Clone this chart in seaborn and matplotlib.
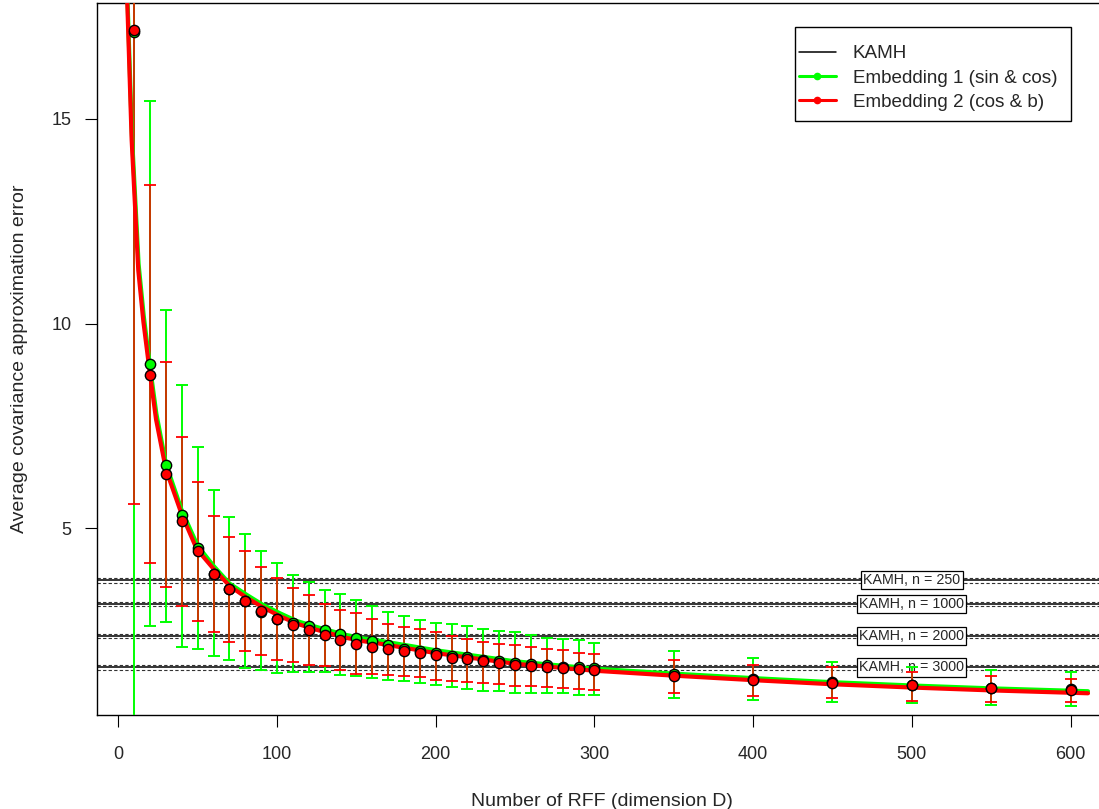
import numpy as np
import matplotlib
matplotlib.use("Agg")
import matplotlib.pyplot as plt
from matplotlib.lines import Line2D
from matplotlib.patches import Rectangle
import seaborn as sns

sns.set_style("white")
plt.rcParams['font.family'] = ['Liberation Sans', 'DejaVu Sans']

# Number of random Fourier features
D = [10, 20, 30, 40, 50, 60, 70, 80, 90, 100, 110, 120, 130, 140, 150,
     160, 170, 180, 190, 200, 210, 220, 230, 240, 250, 260, 270, 280, 290, 300,
     350, 400, 450, 500, 550, 600]

# Embedding 1 (sin & cos): mean and error bar ends
emb1_mean = [17.12, 9.02, 6.54, 5.32, 4.52, 3.89, 3.52, 3.22, 2.97, 2.79, 2.69, 2.61, 2.52, 2.42, 2.33,
             2.25, 2.15, 2.07, 2.02, 1.97, 1.89, 1.87, 1.80, 1.77, 1.71, 1.69, 1.67, 1.63, 1.62, 1.59,
             1.44, 1.34, 1.26, 1.19, 1.12, 1.08]
emb1_hi = [34.1, 15.42, 10.32, 8.51, 6.98, 5.95, 5.28, 4.87, 4.44, 4.15, 3.86, 3.70, 3.51, 3.40, 3.26,
           3.11, 2.97, 2.86, 2.76, 2.70, 2.66, 2.63, 2.56, 2.49, 2.47, 2.41, 2.33, 2.31, 2.27, 2.21,
           2.02, 1.84, 1.74, 1.62, 1.56, 1.50]
emb1_lo = [0.2, 2.63, 2.73, 2.11, 2.05, 1.89, 1.80, 1.59, 1.55, 1.47, 1.51, 1.51, 1.50, 1.42, 1.39,
           1.35, 1.30, 1.28, 1.23, 1.18, 1.14, 1.08, 1.03, 1.03, 0.98, 0.98, 0.99, 0.98, 0.93, 0.93,
           0.86, 0.82, 0.76, 0.75, 0.69, 0.68]

# Embedding 2 (cos & b)
emb2_mean = [17.17, 8.74, 6.32, 5.18, 4.45, 3.90, 3.53, 3.23, 2.98, 2.80, 2.65, 2.52, 2.41, 2.29, 2.19,
             2.11, 2.07, 2.02, 1.97, 1.91, 1.85, 1.81, 1.76, 1.72, 1.68, 1.64, 1.62, 1.59, 1.57, 1.54,
             1.40, 1.31, 1.23, 1.17, 1.10, 1.06]
emb2_hi = [28.75, 13.37, 9.07, 7.24, 6.13, 5.30, 4.79, 4.45, 4.05, 3.79, 3.54, 3.37, 3.15, 3.02, 2.93,
           2.78, 2.67, 2.59, 2.54, 2.47, 2.38, 2.30, 2.24, 2.18, 2.15, 2.10, 2.06, 2.03, 1.97, 1.94,
           1.80, 1.68, 1.61, 1.50, 1.41, 1.34]
emb2_lo = [5.59, 4.15, 3.58, 3.12, 2.74, 2.47, 2.23, 2.00, 1.91, 1.80, 1.75, 1.68, 1.64, 1.54, 1.46,
           1.45, 1.42, 1.40, 1.37, 1.30, 1.27, 1.25, 1.23, 1.20, 1.15, 1.15, 1.13, 1.10, 1.09, 1.07,
           0.98, 0.91, 0.86, 0.79, 0.76, 0.76]

# fitted curves
fit1_D = [5.4, 5.9, 8.6, 12.8, 16, 19.8, 24, 30, 40, 50, 60, 70, 81, 91, 102, 112, 123, 133, 144,
          154, 165, 200, 250, 300, 350, 400, 450, 500, 550, 611]
fit1_y = [18.4, 17.8, 14.6, 11.45, 10.2, 9.0, 7.8, 6.58, 5.44, 4.58, 4.09, 3.66, 3.38, 3.14, 2.93,
          2.75, 2.62, 2.51, 2.40, 2.32, 2.26, 2.03, 1.76, 1.58, 1.46, 1.35, 1.25, 1.17, 1.10, 1.03]
fit2_D = [5.2, 5.7, 8.4, 12.6, 15.8, 19.6, 23.8, 30, 40, 49.4, 59.9, 70.4, 80.9, 91.4, 101.9, 112.4,
          122.9, 133.4, 143.9, 154.4, 164.9, 200, 250, 300, 350, 400, 450, 500, 550, 611]
fit2_y = [18.4, 17.8, 14.5, 11.3, 10.05, 8.88, 7.66, 6.44, 5.34, 4.50, 4.02, 3.59, 3.31, 3.07, 2.86,
          2.68, 2.55, 2.44, 2.33, 2.25, 2.19, 1.96, 1.70, 1.53, 1.41, 1.30, 1.20, 1.12, 1.05, 0.98]

# KAMH baselines
kamh_n = [250, 1000, 2000, 3000]
kamh_mean = [3.74, 3.16, 2.38, 1.61]
kamh_lo = [3.68, 3.10, 2.33, 1.56]
kamh_hi = [3.80, 3.21, 2.43, 1.66]

GREEN = "#00ff00"
RED = "#ff0000"

W, H = 1099, 809
fig = plt.figure(figsize=(W / 100, H / 100), dpi=100)
ax = fig.add_axes([96.7 / W, 1 - 715 / H, (1108 - 96.7) / W, (715 - 3) / H])

# KAMH reference lines with their bands
for n, m, lo, hi in zip(kamh_n, kamh_mean, kamh_lo, kamh_hi):
    ax.axhline(m, color="black", lw=1.1, zorder=1)
    ax.axhline(lo, color="#333333", lw=0.8, ls=(0, (3, 2)), zorder=1)
    ax.axhline(hi, color="#333333", lw=0.8, ls=(0, (3, 2)), zorder=1)
    ax.text(500, m, f"KAMH, n = {n}", fontsize=10.3, ha="center", va="center", zorder=2,
            bbox=dict(boxstyle="square,pad=0.15", fc="white", ec="black", lw=0.9))

# error bars
e1 = np.array(emb1_mean)
ax.errorbar(D, e1, yerr=[e1 - np.array(emb1_lo), np.array(emb1_hi) - e1], fmt="none",
            ecolor=GREEN, elinewidth=1.4, capsize=4.6, capthick=1.4, zorder=3)
e2 = np.array(emb2_mean)
ax.errorbar(D, e2, yerr=[e2 - np.array(emb2_lo), np.array(emb2_hi) - e2], fmt="none",
            ecolor=RED, elinewidth=1.1, capsize=4.6, capthick=1.3, zorder=4)

# fitted curves
sns.lineplot(x=fit1_D, y=fit1_y, color=GREEN, lw=3.0, sort=False, estimator=None, ax=ax, zorder=5)
sns.lineplot(x=fit2_D, y=fit2_y, color=RED, lw=3.0, sort=False, estimator=None, ax=ax, zorder=6)

# points
sns.scatterplot(x=D, y=emb1_mean, color=GREEN, s=55, edgecolor="black", linewidth=1.0, ax=ax, zorder=7)
sns.scatterplot(x=D, y=emb2_mean, color=RED, s=55, edgecolor="black", linewidth=1.0, ax=ax, zorder=8)

ax.set_xlim(-13.6, 623.6)
ax.set_ylim(0.45, 17.82)
ax.set_xticks([0, 100, 200, 300, 400, 500, 600])
ax.set_yticks([5, 10, 15])
ax.tick_params(axis="both", which="both", bottom=True, left=True, direction="out",
               length=8.6, width=0.8, color="black", labelsize=13)
ax.tick_params(axis="x", pad=14)
ax.tick_params(axis="y", pad=9.5)
for side in ["left", "bottom", "top", "right"]:
    ax.spines[side].set_color("black")
    ax.spines[side].set_linewidth(1.0)

ax.set_xlabel("Number of RFF (dimension D)", fontsize=14, labelpad=21)
ax.set_ylabel("Average covariance approximation error", fontsize=14, labelpad=17)

# legend: R-style box drawn separately so the padding matches
handles = [
    Line2D([], [], color="black", lw=1.1),
    Line2D([], [], color=GREEN, lw=2.2, marker="o", markersize=4.5),
    Line2D([], [], color=RED, lw=2.2, marker="o", markersize=4.5),
]
labels = ["KAMH", "Embedding 1 (sin & cos)", "Embedding 2 (cos & b)"]
fig.legend(handles, labels, loc="upper left", bbox_to_anchor=(799 / W, 1 - 45 / H),
           bbox_transform=fig.transFigure, borderaxespad=0, fontsize=13.6, frameon=False,
           labelspacing=0.38, handlelength=1.95, handletextpad=0.9, borderpad=0)
fig.patches.append(Rectangle((795 / W, 1 - 121 / H), (1071 - 795) / W, (121 - 27) / H,
                             transform=fig.transFigure, fill=False, ec="black", lw=1.0))

fig.savefig("out.png", dpi=100)
